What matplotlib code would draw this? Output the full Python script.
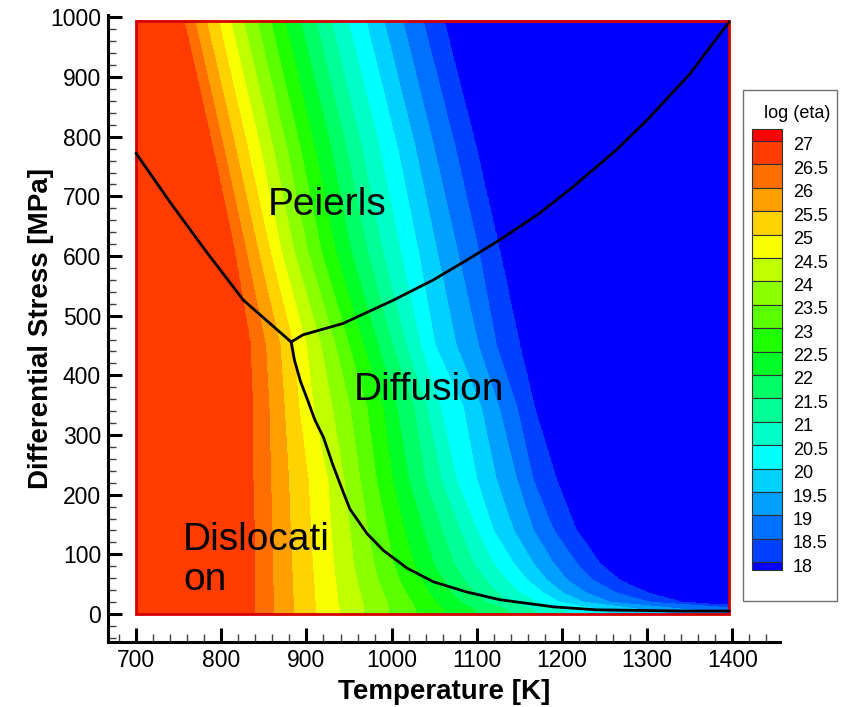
import numpy as np
import matplotlib
matplotlib.use("Agg")
import matplotlib.pyplot as plt
from matplotlib.patches import Rectangle

# ---- data -------------------------------------------------------------
# log10 viscosity contour levels
levels = [18.0, 18.5, 19.0, 19.5, 20.0, 20.5, 21.0, 21.5, 22.0, 22.5,
          23.0, 23.5, 24.0, 24.5, 25.0, 25.5, 26.0, 26.5, 27.0]
# band colours, from below 18 up to above 27
band_colors = ['#0000ff', '#0040ff', '#0070ff', '#00a0ff', '#00d2ff',
               '#00ffff', '#00ffc8', '#00ff96', '#00ff64', '#00ff28',
               '#20ff00', '#5aff00', '#8cff00', '#c0ff00', '#f8ff00',
               '#ffd200', '#ffa000', '#ff6e00', '#ff3c00', '#ff0000']

# temperature (K) at which the levels 26.5, 26, ..., 18 are crossed
# along lines of constant differential stress (MPa)
stress_rows = [0, 8, 20, 35, 57, 85, 141, 225, 347, 450, 610, 780, 994]
t_at_0 = [839, 862, 885, 911, 939, 967, 997, 1029, 1062, 1098, 1138, 1172, 1210, 1255, 1330, 1400, 1480, 1560]
t_at_8 = [839, 861.5, 885, 911, 938.6, 966.8, 996, 1027.5, 1060.7, 1096, 1135, 1166, 1200, 1241, 1290, 1342, 1420, 1480]
t_at_20 = [839, 861, 884.5, 910, 937, 966, 995, 1024, 1052, 1081, 1110, 1139, 1170, 1197, 1225, 1256, 1303, 1342]
t_at_35 = [839, 861, 884, 909.5, 936, 963, 990, 1017, 1044, 1070, 1097, 1124, 1151, 1178, 1201, 1229, 1264, 1303]
t_at_57 = [839, 860.5, 883.5, 908.5, 934, 959, 984, 1009, 1035, 1060, 1085, 1110, 1135, 1159, 1182, 1206, 1236, 1268]
t_at_85 = [838.5, 860, 882.5, 907, 932, 955, 979, 1002, 1026, 1049, 1073, 1096, 1119, 1143, 1166, 1190, 1217, 1245]
t_at_141 = [838, 859.5, 881, 905, 929, 951, 972, 994, 1015, 1037, 1059, 1080, 1100, 1119, 1143, 1166, 1190, 1217]
t_at_225 = [837, 858, 879, 902, 925, 944, 963, 982, 1001, 1020, 1039, 1058, 1076, 1100, 1123, 1147, 1166, 1194]
t_at_347 = [836, 856, 874, 891, 908, 930, 951, 971, 990, 1006, 1026, 1041, 1057, 1084, 1105, 1126, 1147, 1168]
t_at_450 = [834, 852, 869, 885, 900, 917, 934, 950, 967, 984, 1001, 1017, 1034, 1051, 1076, 1102, 1123, 1151]
t_at_610 = [815, 829, 843, 857, 870, 885, 901, 917, 934, 952, 971, 989, 1010, 1031, 1053, 1077, 1102, 1127]
t_at_780 = [790, 803, 817, 831, 846, 861, 877, 893, 910, 929, 947, 965, 986, 1007, 1028, 1050, 1075, 1100]
t_at_994 = [756, 769, 782.5, 797, 811, 826, 842, 858, 875, 893, 911, 929, 949, 970, 991, 1013, 1037, 1062]

# deformation-mechanism boundaries (temperature K, stress MPa)
peierls_disl_t = [700, 740, 781, 826, 882]
peierls_disl_s = [772, 690, 610, 526, 456]
peierls_diff_t = [882, 896, 943, 1002, 1049, 1088, 1127, 1174, 1213, 1264, 1302, 1350, 1396]
peierls_diff_s = [456, 468, 487, 526, 560, 593, 627, 672, 716, 778, 831, 905, 992]
disl_diff_t = [882, 886, 893, 901, 910, 920, 931, 943, 951, 971, 990, 1018, 1049, 1088, 1127, 1190, 1241, 1342, 1396]
disl_diff_s = [456, 425, 390, 360, 325, 296, 250, 205, 176, 135, 107, 77, 54, 37, 24, 12, 7, 5, 5]

temp_range = (700, 1396)
stress_range = (0, 994)

# ---- field on a regular grid from the level crossings -----------------
crossings = np.array([t_at_0, t_at_8, t_at_20, t_at_35, t_at_57, t_at_85,
                      t_at_141, t_at_225, t_at_347, t_at_450, t_at_610,
                      t_at_780, t_at_994], dtype=float)
crossing_levels = np.array(levels[::-1][1:])  # 26.5 ... 18

tg = np.linspace(*temp_range, 900)
sg = np.linspace(*stress_range, 800)
pos = np.column_stack([np.interp(sg, stress_rows, crossings[:, k])
                       for k in range(crossings.shape[1])])
field = np.empty((sg.size, tg.size))
for i in range(sg.size):
    field[i] = np.interp(tg, pos[i], crossing_levels, left=26.75, right=17.75)

# ---- figure -------------------------------------------------------------
W, H = 853, 707
fig = plt.figure(figsize=(W / 100, H / 100), dpi=100)
ax = fig.add_axes([108 / W, 65.3 / H, 672 / W, 626.7 / H])

ax.contourf(tg, sg, field, levels=[0] + levels + [100], colors=band_colors,
            antialiased=False, zorder=1)
ax.add_patch(Rectangle((temp_range[0], stress_range[0]),
                       temp_range[1] - temp_range[0],
                       stress_range[1] - stress_range[0],
                       fill=False, ec='#d60000', lw=2.0, zorder=4))

for tt, ss in [(peierls_disl_t, peierls_disl_s),
               (peierls_diff_t, peierls_diff_s),
               (disl_diff_t, disl_diff_s)]:
    ax.plot(tt, ss, color='black', lw=2.0, zorder=5, solid_joinstyle='round')

label_font = dict(family='Liberation Sans', fontsize=28, color='black', zorder=6)
ax.text(855, 669, 'Peierls', ha='left', va='baseline', **label_font)
ax.text(955, 359, 'Diffusion', ha='left', va='baseline', **label_font)
ax.text(755, 107, 'Dislocati', ha='left', va='baseline', **label_font)
ax.text(755, 40, 'on', ha='left', va='baseline', **label_font)

ax.set_xlim(667, 1456)
ax.set_ylim(-46.4, 1004)
ax.set_xticks(np.arange(700, 1401, 100))
ax.set_yticks(np.arange(0, 1001, 100))
ax.set_xticks(np.arange(680, 1441, 20), minor=True)
ax.set_yticks(np.arange(-40, 1001, 20), minor=True)
ax.tick_params(which='major', direction='in', length=10, width=2.2, pad=5,
               labelsize=16.5)
ax.tick_params(which='minor', direction='in', length=5.5, width=1.0,
               color='#404040')
for lab in ax.get_xticklabels() + ax.get_yticklabels():
    lab.set_family('Liberation Sans')
for side in ('top', 'right'):
    ax.spines[side].set_visible(False)
for side in ('left', 'bottom'):
    ax.spines[side].set_linewidth(2.2)

ax.set_xlabel('Temperature [K]', family='Liberation Sans', fontweight='bold',
              fontsize=20)
ax.set_ylabel('Differential Stress [MPa]', family='Liberation Sans',
              fontweight='bold', fontsize=20)
ax.xaxis.set_label_coords(0.5, -0.060)
ax.yaxis.set_label_coords(-0.080, 0.5)

# ---- legend panel (pixel coordinates) -----------------------------------
lax = fig.add_axes([0, 0, 1, 1])
lax.set_xlim(0, W)
lax.set_ylim(H, 0)
lax.axis('off')
lax.add_patch(Rectangle((743, 90), 94, 511, fill=False, ec='#707070', lw=1.0))
lax.text(797, 113, 'log (eta)', ha='center', va='center', fontsize=13,
         family='Liberation Sans')

step = 23.4
top_edge = 141.0
sw_x, sw_w = 752, 30
desc_levels = levels[::-1]
# top swatch (above highest level)
lax.add_patch(Rectangle((sw_x, top_edge - 12), sw_w, 12, fc=band_colors[-1],
                        ec='#303030', lw=0.8))
for k, lev in enumerate(desc_levels):
    y0 = top_edge + k * step
    if k < len(desc_levels) - 1:
        lax.add_patch(Rectangle((sw_x, y0), sw_w, step,
                                fc=band_colors[len(band_colors) - 2 - k],
                                ec='#303030', lw=0.8))
    lax.text(793, y0 + 5, f'{lev:g}', ha='left', va='center', fontsize=13,
             family='Liberation Sans')
bottom_edge = top_edge + (len(desc_levels) - 1) * step
lax.add_patch(Rectangle((sw_x, bottom_edge), sw_w, 8, fc=band_colors[0],
                        ec='#303030', lw=0.8))

fig.savefig('out.png', dpi=100)
